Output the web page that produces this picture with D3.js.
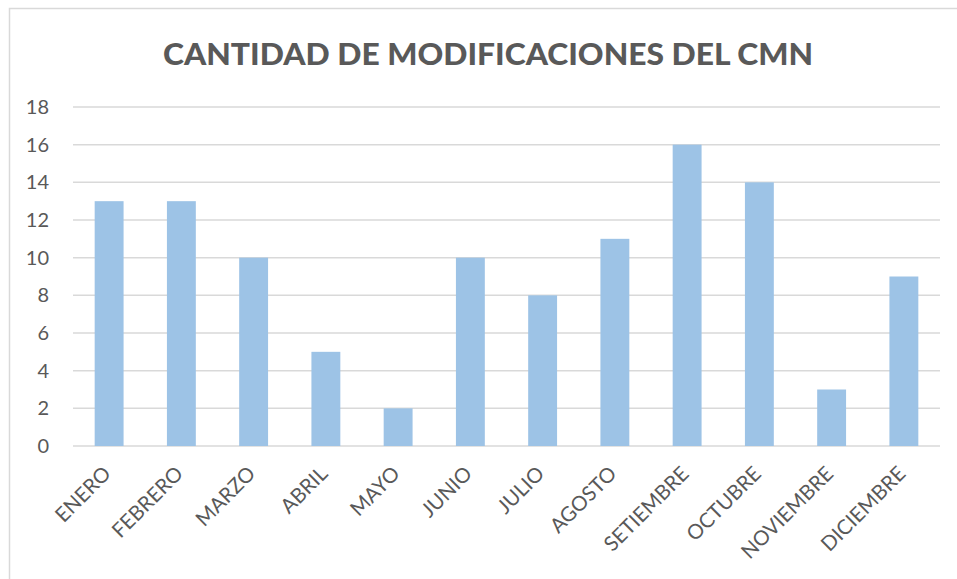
<!DOCTYPE html>
<html>
<head>
<meta charset="utf-8">
<script src="https://cdn.jsdelivr.net/npm/d3@7"></script>
<style>
  body { margin: 0; background: #ffffff; }
  text { font-family: Lato, "Open Sans", sans-serif; fill: #595959; }
</style>
</head>
<body>
<div id="chart"></div>
<script>
var months = ["ENERO", "FEBRERO", "MARZO", "ABRIL", "MAYO", "JUNIO", "JULIO",
    "AGOSTO", "SETIEMBRE", "OCTUBRE", "NOVIEMBRE", "DICIEMBRE"];
var counts = [13, 13, 10, 5, 2, 10, 8, 11, 16, 14, 3, 9];
var yTicks = [0, 2, 4, 6, 8, 10, 12, 14, 16, 18];

var data = months.map(function (m, i) {
    return { month: m, value: counts[i] };
});

var margin = { top: 107, right: 17, bottom: 133, left: 73 };
var W = 957, H = 579;
var width = W - margin.left - margin.right;
var height = H - margin.top - margin.bottom;

var svg = d3.select("#chart").append("svg")
    .attr("width", W)
    .attr("height", H);

// chart border
svg.append("rect")
    .attr("x", 9.5)
    .attr("y", 8.5)
    .attr("width", W + 20)
    .attr("height", H + 20)
    .attr("fill", "none")
    .attr("stroke", "#d9d9d9")
    .attr("stroke-width", 1.5);

svg.append("text")
    .attr("x", 488)
    .attr("y", 65)
    .attr("text-anchor", "middle")
    .style("font-size", "31px")
    .style("font-weight", "900")
    .attr("textLength", 650)
    .attr("lengthAdjust", "spacingAndGlyphs")
    .text("CANTIDAD DE MODIFICACIONES DEL CMN");

var g = svg.append("g")
    .attr("transform", "translate(" + margin.left + "," + margin.top + ")");

var x = d3.scaleBand()
    .domain(months)
    .range([0, width])
    .paddingInner(0.6)
    .paddingOuter(0.3);

var y = d3.scaleLinear()
    .domain([0, 18])
    .range([height, 0]);

// gridlines
g.selectAll(".grid")
    .data(yTicks)
    .enter()
    .append("line")
    .attr("class", "grid")
    .attr("x1", 0)
    .attr("x2", width)
    .attr("y1", function (d) { return y(d); })
    .attr("y2", function (d) { return y(d); })
    .attr("stroke", "#d9d9d9")
    .attr("stroke-width", 1.5);

// y axis labels
var yAxis = d3.axisLeft(y).tickValues(yTicks).tickSize(0).tickPadding(24);
g.append("g")
    .attr("class", "y-axis")
    .call(yAxis)
    .call(function (s) { s.select(".domain").remove(); })
    .selectAll("text")
    .style("font-size", "20px")
    .style("font-family", "Lato, 'Open Sans', sans-serif")
    .attr("fill", "#595959");

// bars
g.selectAll(".bar")
    .data(data)
    .enter()
    .append("rect")
    .attr("class", "bar")
    .attr("x", function (d) { return x(d.month); })
    .attr("y", function (d) { return y(d.value); })
    .attr("width", x.bandwidth())
    .attr("height", function (d) { return height - y(d.value); })
    .attr("fill", "#9dc3e6");

// x axis labels
var xAxis = d3.axisBottom(x).tickSize(0).tickPadding(0);
g.append("g")
    .attr("class", "x-axis")
    .attr("transform", "translate(0," + height + ")")
    .call(xAxis)
    .call(function (s) { s.select(".domain").remove(); })
    .selectAll("text")
    .style("font-size", "20.5px")
    .style("font-family", "Lato, 'Open Sans', sans-serif")
    .attr("fill", "#595959")
    .attr("text-anchor", "end")
    .attr("dy", null)
    .attr("transform", "translate(3,29) rotate(-45)");
</script>
</body>
</html>
